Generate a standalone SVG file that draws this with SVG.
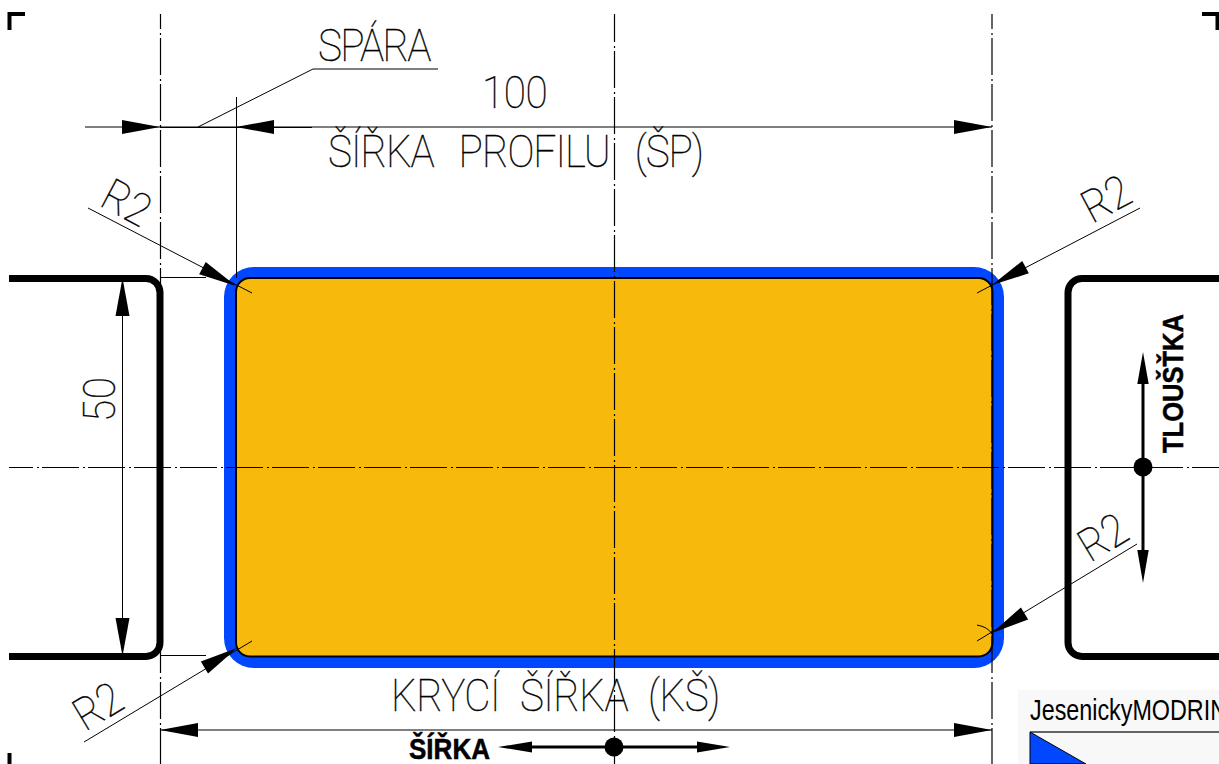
<svg xmlns="http://www.w3.org/2000/svg" width="1219" height="764" viewBox="0 0 1219 764">
<style>
.thin{fill:none;stroke:#000;stroke-width:1}
.cad{font-family:"Roboto","Liberation Sans",sans-serif;font-weight:100;font-size:45px;fill:#000;stroke:#000;stroke-width:.35}
.bold{font-family:"Liberation Sans",sans-serif;font-weight:700;font-size:29px;fill:#000;stroke:#000;stroke-width:.5}
.thick{fill:none;stroke:#000;stroke-width:7}
.mark{fill:none;stroke:#000;stroke-width:4}
.cv{fill:none;stroke:#000;stroke-width:1.200;stroke-dasharray:37 4 2 3}
</style>
<defs><path id="ah" d="M0 0L-38 -7V7Z" fill="#000"/></defs>
<rect width="1219" height="764" fill="#fff"/>
<g id="profile">
<rect x="224" y="267" width="780" height="401" rx="30" fill="#0047ff"/>
<rect x="236" y="278" width="756.500" height="378.500" rx="14" fill="#f7b90b" stroke="#000" stroke-width="2"/>
</g>
<g id="neighbours">
<path class="thick" d="M9 278.500H146A14 14 0 0 1 160 292.500V642.500A14 14 0 0 1 146 656.500H9"/>
<path class="thick" d="M1219 278.500H1082A14 14 0 0 0 1068 292.500V642.500A14 14 0 0 0 1082 656.500H1219"/>
<path class="mark" d="M9.500 30V14H25"/>
<path class="mark" d="M1202 14H1217.500V30"/>
<path class="mark" d="M9.500 753V764"/>
<path class="mark" d="M1217.500 753V764"/>
</g>
<g id="connectors">
<path class="cv" stroke-dashoffset="22" d="M160.500 14V764"/>
<path class="cv" stroke-dashoffset="22" d="M992 14V764"/>
<path class="cv" stroke-dashoffset="9" d="M614.500 14V764"/>
<path class="cv" stroke-dashoffset="13" d="M9 467.500H1219"/>
<path class="thin" d="M236.500 97V278"/>
<path class="thin" d="M85 127H992"/>
<path class="thin" d="M160 127.500H312"/>
<path class="thin" d="M198 127L313 69H438"/>
<path class="thin" d="M160 277.500H206M160 655.500H206"/>
<path class="thin" d="M122.500 278V656"/>
<path class="thin" d="M160 730H992"/>
<path class="thin" d="M88 208L252 293"/>
<path class="thin" d="M1140 208L977 293"/>
<path class="thin" d="M84 742L252 641"/>
<path class="thin" d="M1137 544L977 641"/>
<path class="thin" d="M977 625Q988 627 992 634"/>
<path d="M530 747H699" fill="none" stroke="#000" stroke-width="3"/>
<path d="M1143 382V552" fill="none" stroke="#000" stroke-width="3"/>
<use href="#ah" transform="translate(160 127)"/>
<use href="#ah" transform="translate(236 127) rotate(180)"/>
<use href="#ah" transform="translate(992 127)"/>
<use href="#ah" transform="translate(122.500 278) rotate(-90)"/>
<use href="#ah" transform="translate(122.500 656) rotate(90)"/>
<use href="#ah" transform="translate(160 730) rotate(180)"/>
<use href="#ah" transform="translate(992 730)"/>
<use href="#ah" transform="translate(236 286) rotate(28)"/>
<use href="#ah" transform="translate(992 285) rotate(152)"/>
<use href="#ah" transform="translate(237 648) rotate(-31)"/>
<use href="#ah" transform="translate(992 633) rotate(149)"/>
<path d="M498 747L532 741.500V752.500ZM730 747L697 741.500V752.500ZM1143 352L1137.300 384H1148.700ZM1143 583L1137.300 550H1148.700Z" fill="#000"/>
<circle cx="614" cy="747" r="9.500"/>
<circle cx="1143" cy="467" r="9.500"/>
</g>
<g id="labels">
<text class="cad" transform="translate(318 61) scale(.9 1)" textLength="126" lengthAdjust="spacing">SPÁRA</text>
<text class="cad" transform="translate(482 108) scale(.9 1)" textLength="73" lengthAdjust="spacing">100</text>
<text class="cad" transform="translate(328 167) scale(.9 1)" word-spacing="18" textLength="418" lengthAdjust="spacing">ŠÍŘKA PROFILU (ŠP)</text>
<text class="cad" transform="translate(391 711) scale(.9 1)" word-spacing="12" textLength="366" lengthAdjust="spacing">KRYCÍ ŠÍŘKA (KŠ)</text>
<text class="cad" transform="translate(115 422) rotate(-90) scale(.9 1)" textLength="50" lengthAdjust="spacing">50</text>
<text class="cad" transform="translate(98 205) rotate(28) scale(.9 1)" textLength="54" lengthAdjust="spacing">R2</text>
<text class="cad" transform="translate(1092 224) rotate(-28) scale(.9 1)" textLength="54" lengthAdjust="spacing">R2</text>
<text class="cad" transform="translate(85 732) rotate(-31) scale(.9 1)" textLength="54" lengthAdjust="spacing">R2</text>
<text class="cad" transform="translate(1090 563) rotate(-31) scale(.9 1)" textLength="54" lengthAdjust="spacing">R2</text>
<text class="bold" x="409" y="759" textLength="81" lengthAdjust="spacingAndGlyphs">ŠÍŘKA</text>
<text class="bold" transform="translate(1183 453) rotate(-90)" textLength="139" lengthAdjust="spacingAndGlyphs">TLOUŠŤKA</text>
</g>
<g id="legend">
<rect x="1018" y="690" width="201" height="74" fill="#f8f8f8"/>
<text x="1030" y="720" font-family="Liberation Sans, sans-serif" font-size="29" fill="#000" textLength="197" lengthAdjust="spacingAndGlyphs">JesenickyMODRIN</text>
<path d="M1030 732H1219" fill="none" stroke="#333" stroke-width="1.500"/>
<path d="M1030 732V764H1086Z" fill="#0047ff" stroke="#000"/>
</g>
</svg>
